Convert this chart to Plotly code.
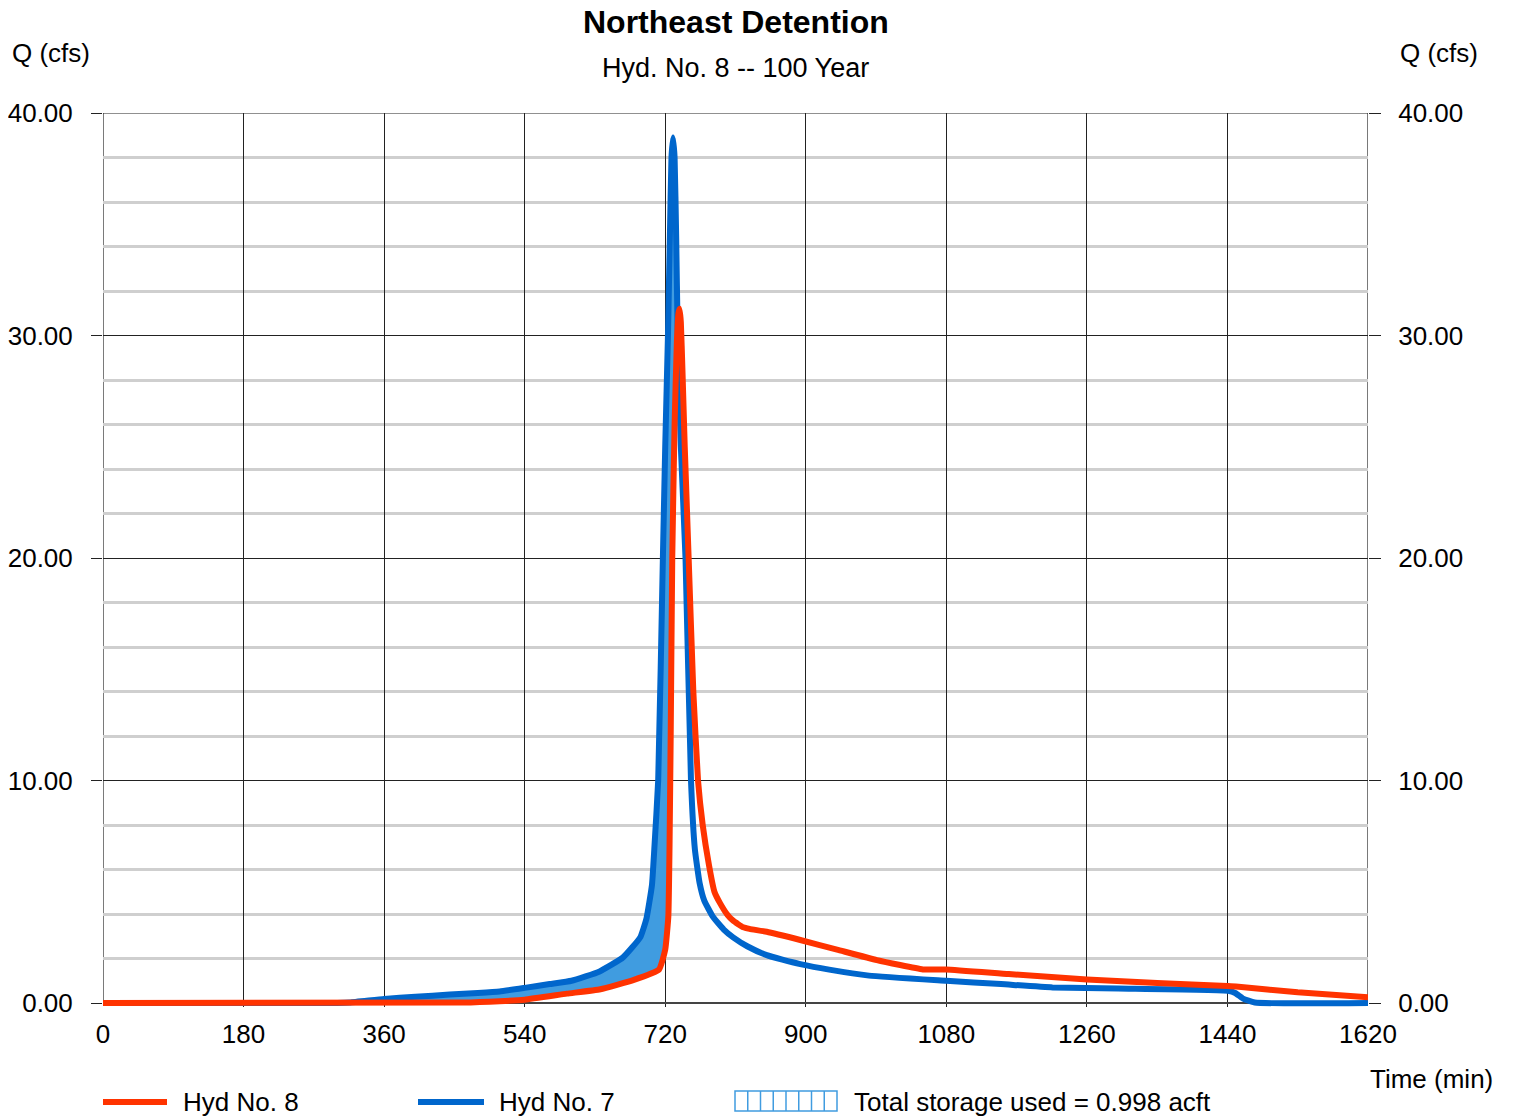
import plotly.graph_objects as go

# ---------------- data ----------------
title = "Northeast Detention"
subtitle = "Hyd. No. 8 -- 100 Year"
y_label = "Q (cfs)"
x_label = "Time (min)"

x_ticks = [0, 180, 360, 540, 720, 900, 1080, 1260, 1440, 1620]
y_ticks = [0, 10, 20, 30, 40]
y_tick_text = ["0.00", "10.00", "20.00", "30.00", "40.00"]
y_minor = [2, 4, 6, 8, 12, 14, 16, 18, 22, 24, 26, 28, 32, 34, 36, 38]

# Hyd No. 7 (inflow)
t7 = [0, 300, 316, 360, 400, 444, 480, 508, 540, 572, 600, 636, 666, 688, 696,
      703, 706, 711, 717, 720, 723.5, 726, 728, 730, 732, 734, 736, 740, 746, 753, 758,
      764, 770, 781, 795, 807, 825, 850, 870, 893, 930, 981, 1080, 1150, 1216,
      1300, 1441, 1450, 1460, 1475, 1620]
q7 = [0, 0, 0.02, 0.18, 0.28, 0.38, 0.45, 0.52, 0.68, 0.85, 1.0, 1.42, 2.05, 2.95, 3.8,
      5.3, 6.9, 10.0, 20.0, 25.0, 30.0, 34.5, 38.0, 38.9, 38.0, 34.5, 30.0, 25.0, 20.0, 10.0, 6.9,
      5.4, 4.6, 3.88, 3.3, 2.95, 2.55, 2.15, 1.95, 1.75, 1.5, 1.23, 1.0, 0.85, 0.7,
      0.65, 0.55, 0.45, 0.2, 0.02, 0]

# Hyd No. 8 (outflow)
t8 = [0, 460, 508, 540, 594, 637, 679, 712, 720, 724, 725.5, 727, 729, 732, 735,
      737, 738.5, 740, 742, 745, 750, 756, 762, 768, 776, 783, 790, 800, 807, 820, 828, 850,
      893, 940, 991, 1050, 1080, 1160, 1260, 1350, 1440, 1451, 1530, 1620]
q8 = [0, 0.02, 0.08, 0.15, 0.42, 0.62, 1.03, 1.5, 2.4, 3.9, 7.0, 12.0, 20.0, 26.0, 29.8,
      31.0, 31.2, 30.6, 28.5, 25.0, 20.0, 14.0, 10.0, 8.0, 6.2, 5.0, 4.5, 3.95, 3.7, 3.4, 3.33, 3.2,
      2.83, 2.4, 1.93, 1.51, 1.51, 1.3, 1.06, 0.9, 0.76, 0.74, 0.48, 0.26]

storage_text = "Total storage used = 0.998 acft"
legend_names = ["Hyd No. 8", "Hyd No. 7"]
t_cross = 736

# ---------------- styles ----------------
RED = "#ff3300"
BLUE = "#0066cc"
FILL = "#409ce0"
FONT = "Liberation Sans, Arial, sans-serif"
SMOOTH = 0.4

OFF = 8  # page body margin
W, H = 1514 - OFF, 1116 - OFF
L, R, T, B = 103 - OFF, 1368 - OFF, 113 - OFF, 1007 - OFF
YMIN = -0.18


def px_x(px):
    return (px - OFF - L) / (R - L)


def px_y(py):
    return (B - (py - OFF)) / (B - T)


fig = go.Figure()

# storage fill polygon (between inflow and outflow up to crossing)
fx = [t for t in t7 if t <= t_cross] + [t for t in t8 if t < t_cross][::-1]
fy = [q for t, q in zip(t7, q7) if t <= t_cross] + [q for t, q in zip(t8, q8) if t < t_cross][::-1]
fig.add_trace(go.Scatter(x=fx, y=fy, fill="toself", fillcolor=FILL,
                         line=dict(width=0, shape="spline", smoothing=SMOOTH),
                         mode="lines", hoverinfo="skip", showlegend=False))

fig.add_trace(go.Scatter(x=t7, y=q7, mode="lines",
                         line=dict(color=BLUE, width=6, shape="spline", smoothing=SMOOTH),
                         name=legend_names[1], showlegend=False))
fig.add_trace(go.Scatter(x=t8, y=q8, mode="lines",
                         line=dict(color=RED, width=6, shape="spline", smoothing=SMOOTH),
                         name=legend_names[0], showlegend=False))
# dummy trace for right axis
fig.add_trace(go.Scatter(x=[0], y=[0], yaxis="y2", mode="markers",
                         marker=dict(opacity=0), hoverinfo="skip", showlegend=False))

fig.update_layout(
    width=W, height=H,
    margin=dict(l=L, r=W - R, t=T, b=H - B, pad=0),
    paper_bgcolor="white", plot_bgcolor="white",
    font=dict(family=FONT, size=26, color="black"),
    xaxis=dict(range=[0, 1620], tickvals=x_ticks, ticktext=[str(v) for v in x_ticks],
               showgrid=True, gridcolor="#222222", gridwidth=1,
               ticks="outside", ticklen=0, ticklabelstandoff=4,
               zeroline=False, showline=False, automargin=False,
               tickfont=dict(size=26)),
    yaxis=dict(range=[YMIN, 40], tickvals=y_ticks, ticktext=y_tick_text,
               showgrid=True, gridcolor="#222222", gridwidth=1,
               minor=dict(tickvals=y_minor, showgrid=True, gridcolor="#cfcfcf",
                          gridwidth=3, ticks=""),
               ticks="outside", ticklen=11, tickcolor="#222222", tickwidth=1,
               ticklabelstandoff=13, automargin=False,
               zeroline=True, zerolinecolor="#444444", zerolinewidth=2,
               showline=False, tickfont=dict(size=26)),
    yaxis2=dict(range=[YMIN, 40], overlaying="y", side="right",
                tickvals=y_ticks, ticktext=y_tick_text, showgrid=False,
                ticks="outside", ticklen=12, tickcolor="#222222", tickwidth=1,
                ticklabelstandoff=12, zeroline=False, showline=False, automargin=False,
                tickfont=dict(size=26)),
)

shapes = []
# plot frame at data limits (0..1620, 0..40)
shapes.append(dict(type="rect", xref="x", yref="y", x0=x_ticks[0], x1=x_ticks[-1],
                   y0=y_ticks[0], y1=y_ticks[-1], line=dict(color="#222222", width=1.2),
                   layer="below"))

ann = []
ann.append(dict(text="<b>" + title + "</b>", x=px_x(735.5), y=px_y(22), xref="paper", yref="paper",
                xanchor="center", yanchor="middle", height=28, valign="middle",
                showarrow=False, font=dict(size=32)))
ann.append(dict(text=subtitle, x=px_x(735.5), y=px_y(68), xref="paper", yref="paper",
                xanchor="center", yanchor="middle", showarrow=False, font=dict(size=27)))
ann.append(dict(text=y_label, x=px_x(10), y=px_y(53), xref="paper", yref="paper",
                xanchor="left", yanchor="middle", showarrow=False, font=dict(size=26)))
ann.append(dict(text=y_label, x=px_x(1398), y=px_y(53), xref="paper", yref="paper",
                xanchor="left", yanchor="middle", showarrow=False, font=dict(size=26)))
ann.append(dict(text=x_label, x=px_x(1368), y=px_y(1079), xref="paper", yref="paper",
                xanchor="left", yanchor="middle", showarrow=False, font=dict(size=26)))

# legend
LY = 1102
shapes.append(dict(type="line", xref="paper", yref="paper", x0=px_x(103), x1=px_x(167),
                   y0=px_y(LY), y1=px_y(LY), line=dict(color=RED, width=6)))
ann.append(dict(text=legend_names[0], x=px_x(181), y=px_y(LY), xref="paper", yref="paper",
                xanchor="left", yanchor="middle", showarrow=False, font=dict(size=26)))
shapes.append(dict(type="line", xref="paper", yref="paper", x0=px_x(418), x1=px_x(484),
                   y0=px_y(LY), y1=px_y(LY), line=dict(color=BLUE, width=6)))
ann.append(dict(text=legend_names[1], x=px_x(497), y=px_y(LY), xref="paper", yref="paper",
                xanchor="left", yanchor="middle", showarrow=False, font=dict(size=26)))
bx0, bx1, by0, by1 = 735, 837, 1091, 1111
shapes.append(dict(type="rect", xref="paper", yref="paper", x0=px_x(bx0), x1=px_x(bx1),
                   y0=px_y(by1), y1=px_y(by0), line=dict(color=FILL, width=1.5),
                   fillcolor="white"))
for i in range(1, 8):
    xx = bx0 + (bx1 - bx0) * i / 8
    shapes.append(dict(type="line", xref="paper", yref="paper", x0=px_x(xx), x1=px_x(xx),
                       y0=px_y(by1), y1=px_y(by0), line=dict(color=FILL, width=1.5)))
ann.append(dict(text=storage_text, x=px_x(852), y=px_y(LY), xref="paper", yref="paper",
                xanchor="left", yanchor="middle", showarrow=False, font=dict(size=26)))

fig.update_layout(annotations=ann, shapes=shapes)
fig.write_html("out.html")
